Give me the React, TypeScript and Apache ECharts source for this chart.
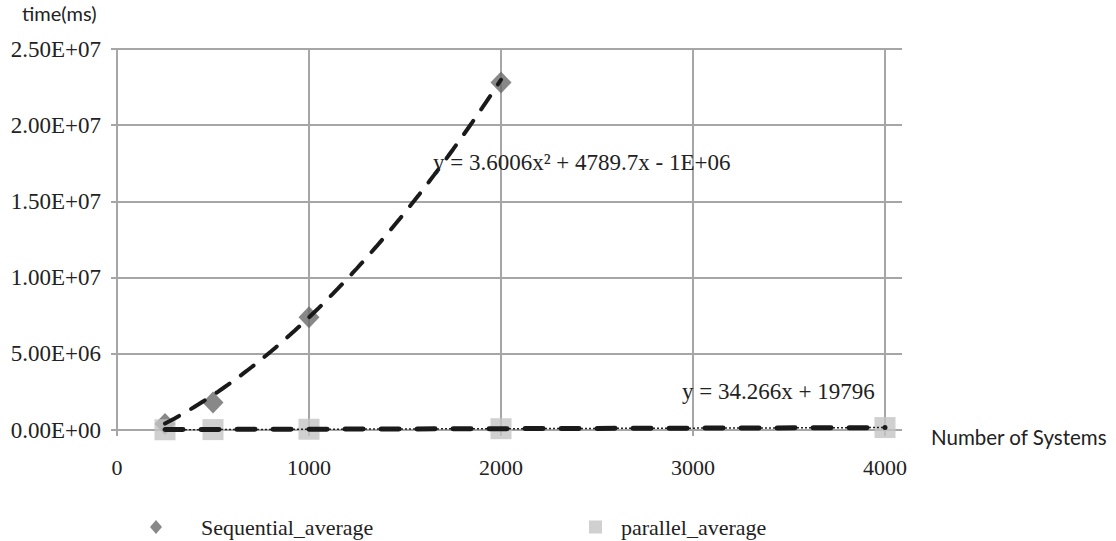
import React, { useEffect, useRef } from "react";
import * as echarts from "echarts";

// ---- data ----
const seqSystems = [250, 500, 1000, 2000];
const seqAverage = [400000, 1800000, 7400000, 22800000];
const parSystems = [250, 500, 1000, 2000, 4000];
const parAverage = [15000, 25000, 50000, 85000, 160000];

// trendline equations shown on the chart
const seqTrendCoef = [3.6006, 4789.7, -1e6]; // a x^2 + b x + c
const parTrendCoef = [34.266, 19796]; // m x + k
const seqTrendLabel = "y = 3.6006x² + 4789.7x - 1E+06";
const parTrendLabel = "y = 34.266x + 19796";

const xMin = 0;
const xMax = 4000;
const xInterval = 1000;
const yMin = 0;
const yMax = 25000000;
const yInterval = 5000000;

const seqName = "Sequential_average";
const parName = "parallel_average";
const xName = "Number of Systems";
const yName = "time(ms)";

const SERIF = "Liberation Serif";
const SANS = "Lato";
const GRID = "#a6a6a6";

function fmtExp(v: number): string {
  const [m, e] = v.toExponential(2).split("e");
  const sign = e[0] === "-" ? "-" : "+";
  const digits = e.replace(/[+-]/, "").padStart(2, "0");
  return `${m}E${sign}${digits}`;
}

function seqTrend(): number[][] {
  const out: number[][] = [];
  const x0 = seqSystems[0];
  const x1 = seqSystems[seqSystems.length - 1];
  for (let x = x0; x <= x1; x += 25) {
    out.push([x, seqTrendCoef[0] * x * x + seqTrendCoef[1] * x + seqTrendCoef[2]]);
  }
  return out;
}

function parTrend(): number[][] {
  const x0 = parSystems[0];
  const x1 = parSystems[parSystems.length - 1];
  return [x0, x1].map((x) => [x, parTrendCoef[0] * x + parTrendCoef[1]]);
}

export default function App() {
  const ref = useRef<HTMLDivElement>(null);

  useEffect(() => {
    if (!ref.current) return;
    const chart = echarts.init(ref.current, null, { renderer: "svg" });
    const gridTop = 49;
    const gridHeight = 381;
    chart.setOption({
      animation: false,
      backgroundColor: "#ffffff",
      grid: [
        { left: 117, top: gridTop, width: 768, height: gridHeight },
        { left: 117, top: gridTop, width: 785, height: gridHeight },
      ],
      xAxis: [
        {
          type: "value",
          gridIndex: 0,
          min: xMin,
          max: xMax,
          interval: xInterval,
          axisLine: { show: true, lineStyle: { color: GRID, width: 2 } },
          axisTick: { show: true, length: 6, lineStyle: { color: GRID, width: 2 } },
          splitLine: { show: true, lineStyle: { color: GRID, width: 2 } },
          axisLabel: {
            margin: 26,
            fontFamily: SERIF,
            fontSize: 22,
            color: "#222",
            formatter: (v: number) => String(v),
          },
        },
        { type: "value", gridIndex: 1, min: 0, max: 1, show: false },
      ],
      yAxis: [
        {
          type: "value",
          gridIndex: 0,
          min: yMin,
          max: yMax,
          interval: yInterval,
          axisLine: { show: true, lineStyle: { color: GRID, width: 2 } },
          axisTick: { show: false },
          axisLabel: { show: false },
          splitLine: { show: false },
        },
        {
          type: "value",
          gridIndex: 1,
          min: yMin,
          max: yMax,
          interval: yInterval,
          axisLine: { show: false },
          axisTick: { show: true, length: 6, lineStyle: { color: GRID, width: 2 } },
          splitLine: { show: true, lineStyle: { color: GRID, width: 2 } },
          axisLabel: {
            margin: 16,
            fontFamily: SERIF,
            fontSize: 23,
            color: "#222",
            formatter: (v: number) => fmtExp(v),
          },
        },
      ],
      legend: [
        {
          data: [seqName],
          left: 145,
          top: 511,
          itemWidth: 12,
          itemHeight: 14,
          textStyle: { fontFamily: SERIF, fontSize: 22, color: "#222", padding: [0, 0, 0, 34] },
        },
        {
          data: [parName],
          left: 584,
          top: 511,
          itemWidth: 13,
          itemHeight: 13,
          textStyle: { fontFamily: SERIF, fontSize: 22, color: "#222", padding: [0, 0, 0, 14] },
        },
      ],
      graphic: [
        {
          type: "text",
          left: 22,
          top: 3,
          style: { text: yName, fontFamily: SANS, fontSize: 20, fill: "#222" },
        },
        {
          type: "text",
          left: 931,
          top: 426,
          style: { text: xName, fontFamily: SANS, fontSize: 20.5, fill: "#222" },
        },
        {
          type: "text",
          left: 433,
          top: 151,
          z: 20,
          style: { text: seqTrendLabel, fontFamily: SERIF, fontSize: 23, fill: "#222" },
        },
        {
          type: "text",
          left: 682,
          top: 380,
          z: 20,
          style: { text: parTrendLabel, fontFamily: SERIF, fontSize: 23, fill: "#222" },
        },
      ],
      series: [
        {
          name: seqName,
          type: "scatter",
          xAxisIndex: 0,
          yAxisIndex: 0,
          symbol: "diamond",
          symbolSize: [21, 22],
          itemStyle: { color: "#6a6a6a" },
          data: seqSystems.map((x, i) => [x, seqAverage[i]]),
          z: 2,
        },
        {
          name: parName,
          type: "scatter",
          xAxisIndex: 0,
          yAxisIndex: 0,
          symbol: "rect",
          symbolSize: 21,
          itemStyle: { color: "#c4c4c4" },
          data: parSystems.map((x, i) => [x, parAverage[i]]),
          z: 3,
        },
        {
          name: "par_line",
          type: "line",
          xAxisIndex: 0,
          yAxisIndex: 0,
          showSymbol: false,
          symbol: "none",
          lineStyle: { color: "#222", width: 1.5, type: [2, 2] },
          data: parSystems.map((x, i) => [x, parAverage[i]]),
          z: 4,
          silent: true,
        },
        {
          name: "seq_trend",
          type: "line",
          xAxisIndex: 0,
          yAxisIndex: 0,
          showSymbol: false,
          symbol: "none",
          smooth: false,
          lineStyle: { color: "#1a1a1a", width: 4, type: [16, 14], cap: "round" },
          data: seqTrend(),
          z: 5,
          silent: true,
        },
        {
          name: "par_trend",
          type: "line",
          xAxisIndex: 0,
          yAxisIndex: 0,
          showSymbol: false,
          symbol: "none",
          lineStyle: { color: "#1a1a1a", width: 5, type: [18, 18], cap: "round" },
          data: parTrend(),
          z: 5,
          silent: true,
        },
      ],
    });
    return () => chart.dispose();
  }, []);

  return (
    <div
      ref={ref}
      style={{ position: "fixed", left: 0, top: 0, width: 1116, height: 541, background: "#fff" }}
    />
  );
}
